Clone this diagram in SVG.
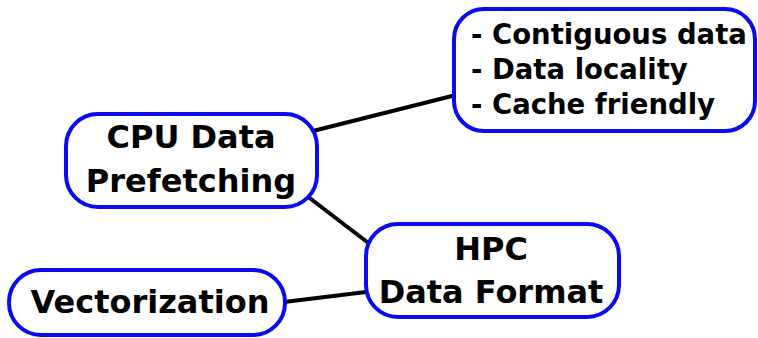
<svg xmlns="http://www.w3.org/2000/svg" width="758" height="338" viewBox="0 0 758 338">
<style>
.box{fill:#fff;stroke:#0a0aee;stroke-width:4}
.t{font-family:"DejaVu Sans",sans-serif;font-weight:bold;fill:#000}
.c{text-anchor:middle;font-size:32px}
.l{font-size:27.5px}
.edge{stroke:#000;stroke-width:4;fill:none}
</style>
<rect width="758" height="338" fill="#fff"/>
<g id="connectors">
<line class="edge" x1="313" y1="131" x2="456" y2="95"/>
<line class="edge" x1="307" y1="196" x2="371" y2="245"/>
<line class="edge" x1="284" y1="302" x2="366" y2="292"/>
</g>
<g id="cpu">
<rect class="box" x="66" y="114" width="251" height="93" rx="32"/>
<text class="t c" x="191" y="148">CPU Data</text>
<text class="t c" x="191" y="192">Prefetching</text>
</g>
<g id="list">
<rect class="box" x="454" y="9" width="301" height="122" rx="30"/>
<text class="t l" x="471" y="44">- Contiguous data</text>
<text class="t l" x="471" y="79">- Data locality</text>
<text class="t l" x="471" y="114">- Cache friendly</text>
</g>
<g id="hpc">
<rect class="box" x="366" y="224" width="253" height="93" rx="32"/>
<text class="t c" x="491" y="260">HPC</text>
<text class="t c" x="491" y="303">Data Format</text>
</g>
<g id="vec">
<rect class="box" x="9" y="270" width="276" height="65" rx="32"/>
<text class="t c" x="150" y="313">Vectorization</text>
</g>
</svg>
